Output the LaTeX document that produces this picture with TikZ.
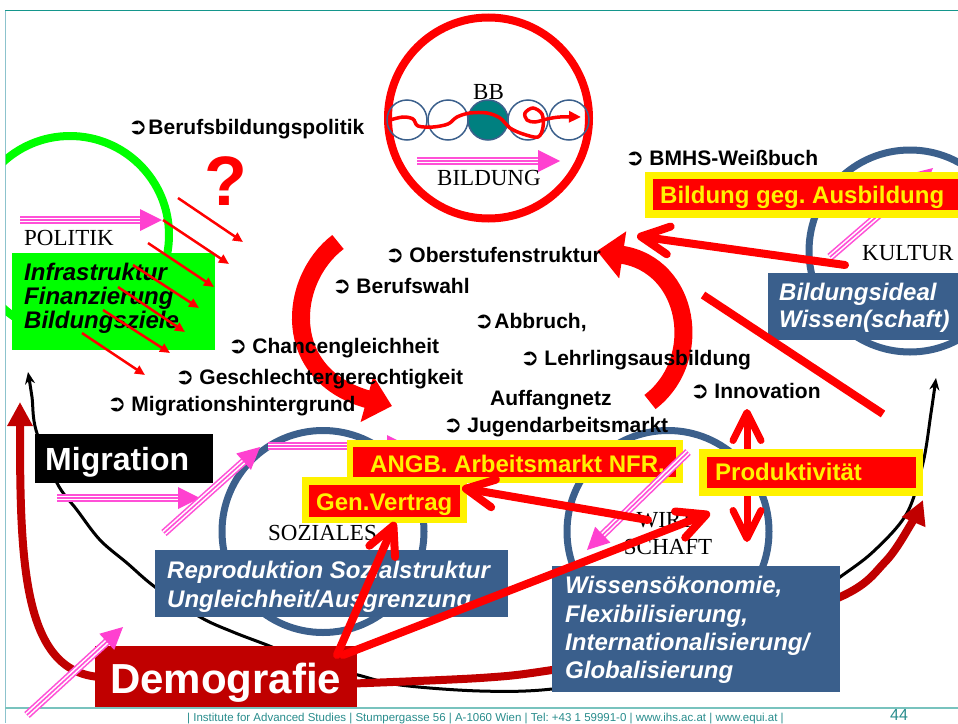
\documentclass[tikz,border=0pt]{standalone}
\usepackage{fontspec}
\setmainfont{Liberation Serif}
\setsansfont{Liberation Sans}
\newfontfamily\dingfont{DejaVu Sans}
\usetikzlibrary{arrows.meta,calc}

\definecolor{ringblue}{RGB}{60,96,140}
\definecolor{boxblue}{RGB}{58,95,140}
\definecolor{deepred}{RGB}{192,0,0}
\definecolor{pinkline}{RGB}{255,80,215}
\definecolor{pinkhead}{RGB}{255,64,208}
\definecolor{bbteal}{RGB}{0,128,128}
\definecolor{frameteal}{RGB}{20,150,140}
\definecolor{frameside}{RGB}{140,195,205}
\definecolor{footline}{RGB}{120,195,190}
\definecolor{foottext}{RGB}{40,140,140}
\definecolor{brightgreen}{RGB}{0,255,0}

% bullet sign in front of the topics
\newcommand{\bul}{{\dingfont\fontsize{23}{23}\selectfont ➲}\hspace{1pt}}
\newcommand{\bulsp}{\bul\hspace{4pt}}
% striped pink arrow: shaft from #1, tip at #2
\newcommand{\pinkarrow}[2]{%
  \coordinate (pshaft) at ($(#2)!16pt!(#1)$);
  \coordinate (pbase) at ($(#2)!22pt!(#1)$);
  \draw[line width=8pt,pinkline] (#1) -- (pshaft);
  \draw[line width=4.8pt,white] (#1) -- (pshaft);
  \draw[line width=1.6pt,pinkline] (#1) -- (pshaft);
  \fill[pinkhead] (#2) -- ($(pbase)!11pt!90:(#2)$) -- ($(pbase)!11pt!-90:(#2)$) -- cycle;}

\begin{document}
\frenchspacing
\begin{tikzpicture}[x=1pt,y=-1pt,
  bullettext/.style={anchor=base west,inner sep=0pt,font=\sffamily\bfseries\fontsize{21}{24}\selectfont},
  ringlabel/.style={anchor=base west,inner sep=0pt,font=\fontsize{23}{27}\selectfont},
  alerttext/.style={anchor=base west,inner sep=0pt,text=yellow,font=\sffamily\bfseries\fontsize{24}{28}\selectfont},
  bluetext/.style={anchor=base west,inner sep=0pt,text=white,font=\sffamily\bfseries\itshape\fontsize{24}{28}\selectfont},
  greentext/.style={anchor=base west,inner sep=0pt,text=black,font=\sffamily\bfseries\itshape\fontsize{24}{28}\selectfont},
  panel/.style={anchor=north west,inner sep=0pt,outer sep=0pt},
  ring/.style={draw=ringblue,line width=7pt},
  barbtip/.tip={Straight Barb[length=28pt,width=28pt,round]},
  redbarb/.style={draw=red,line width=8pt,line cap=round,-barbtip},
  bigarc/.style={draw=red,line width=18pt,-{Triangle[length=26pt,width=46pt]}},
  darkarrow/.style={draw=deepred,line width=8pt,-{Triangle[length=24pt,width=24pt]}},
  thinred/.style={draw=red,line width=2.5pt,-{Triangle[length=10pt,width=9pt]}}]

\useasboundingbox (0,0) rectangle (958,723);

% frame lines
\draw[frameteal,line width=1.5pt] (5,10.5) -- (958,10.5);
\draw[frameside,line width=1pt] (5,10.5) -- (5,723);
\draw[footline,line width=1.5pt] (5,708) -- (958,708);

% rings of the four fields
\begin{scope}
  \clip (5.5,11) rectangle (958,707);
  \draw[brightgreen,line width=8pt] (70,235) circle[radius=99];
\end{scope}
\coordinate (kultur) at (910,251);
\coordinate (soziales) at (323,531.5);
\coordinate (wirtschaft) at (668,531.5);
\draw[ring] (kultur) circle[radius=101];
\draw[ring] (soziales) circle[radius=101];
\draw[ring] (wirtschaft) circle[radius=101];

% BILDUNG circle with its chain
\coordinate (bildung) at (488.5,118);
\draw[red,line width=8pt] (bildung) circle[radius=100.5];
\foreach \cx in {407,448,528,569}
  \draw[ringblue,line width=1.5pt] (\cx,120) circle[radius=20];
\draw[ringblue,line width=1.5pt,fill=bbteal] (488,120) circle[radius=20];
\draw[red,line width=3.5pt,-{Triangle[length=12pt,width=11pt]}]
  plot[smooth,tension=0.55] coordinates {(390,120) (403,117) (413,119) (418,126) (433,127)
  (448,124) (457,117) (470,113) (487,113) (500,118) (510,128) (523,134) (538,137)
  (543,127) (542,114) (533,108) (525,113) (527,120) (535,122) (547,119) (560,117) (581,117)};
\node[ringlabel] (bb) at (473,99) {BB};
\node[ringlabel] (bildunglabel) at (437,185) {BILDUNG};
\coordinate (pa1) at (417,161); \coordinate (pb1) at (560,161);
\pinkarrow{pa1}{pb1}

% long cycle arrows along the bottom
\draw[line width=3pt,{Stealth[length=12pt,width=10pt]}-{Stealth[length=12pt,width=10pt]}]
  plot[smooth,tension=0.55] coordinates {(28,372) (32,397) (36,430) (57,483) (77,510)
  (100,540) (127,563) (155,587) (200,617) (233,632) (267,645) (310,662) (358,675)
  (400,685) (480,691) (552,689) (650,672) (760,632) (840,577) (875,550) (907,513)
  (923,463) (931,413) (936,378)};
\draw[darkarrow] (100,677) .. controls (22,672) and (20,560) .. (20,402);
\draw[darkarrow] plot[smooth,tension=0.55] coordinates {(340,684) (480,678) (552,670)
  (700,645) (840,597) (885,562) (911,524) (923,500)};

% arrows that pass beneath the boxes
\coordinate (pa5) at (268,446); \coordinate (pb5) at (409,446);
\pinkarrow{pa5}{pb5}
\coordinate (pa8) at (830,257); \coordinate (pb8) at (933,168);
\pinkarrow{pa8}{pb8}
\coordinate (innovtop) at (747,409); \coordinate (innovbot) at (747,542);
\draw[draw=red,line width=7pt,line cap=round,barbtip-barbtip] (innovtop) -- (innovbot);

% boxes
\node[panel,fill=brightgreen,minimum width=203pt,minimum height=97pt] (goals) at (12,253) {};
\node[greentext] (g1) at (24,280) {Infrastruktur};
\node[greentext] (g2) at (24,304) {Finanzierung};
\node[greentext] (g3) at (24,328) {Bildungsziele};

\node[panel,fill=black,minimum width=178pt,minimum height=49pt] (migration) at (35,434) {};
\node[anchor=base west,inner sep=0pt,text=white,font=\sffamily\bfseries\fontsize{32}{36}\selectfont] (migtext) at (45,470) {Migration};

\node[panel,fill=deepred,minimum width=262pt,minimum height=61pt] (demografie) at (95,646) {};
\node[anchor=base west,inner sep=0pt,text=white,font=\sffamily\bfseries\fontsize{42}{46}\selectfont] (demtext) at (110,693) {Demografie};

\node[panel,fill=boxblue,minimum width=353pt,minimum height=67pt] (repro) at (155,550) {};
\node[bluetext] (r1) at (167,578) {Reproduktion Sozialstruktur};
\node[bluetext] (r2) at (167,607) {Ungleichheit/Ausgrenzung};

\node[panel,fill=boxblue,minimum width=288pt,minimum height=126pt] (wissen) at (552,566) {};
\node[bluetext] (w1) at (565,593) {Wissensökonomie,};
\node[bluetext] (w2) at (565,622) {Flexibilisierung,};
\node[bluetext] (w3) at (565,650) {Internationalisierung/};
\node[bluetext] (w4) at (565,678) {Globalisierung};

\node[panel,fill=boxblue,minimum width=195pt,minimum height=67pt] (ideal) at (768,273) {};
\node[bluetext] (i1) at (779,300) {Bildungsideal};
\node[bluetext] (i2) at (779,327) {Wissen(schaft)};

\node[panel,fill=yellow,minimum width=336pt,minimum height=43pt] (angbframe) at (347,440) {};
\node[panel,fill=red,minimum width=323pt,minimum height=30pt] (angb) at (353,447) {};
\node[alerttext] (angbtext) at (370,472) {ANGB. Arbeitsmarkt NFR.};

\node[panel,fill=yellow,minimum width=165pt,minimum height=46pt] (genframe) at (302,477) {};
\node[panel,fill=red,minimum width=151pt,minimum height=32pt] (gen) at (309,485) {};
\node[alerttext] (gentext) at (316,510) {Gen.Vertrag};

\node[panel,fill=yellow,minimum width=224pt,minimum height=47pt] (prodframe) at (699,449) {};
\node[panel,fill=red,minimum width=209pt,minimum height=31pt] (prod) at (707,457) {};
\node[alerttext] (prodtext) at (715,480) {Produktivität};

\node[panel,fill=yellow,minimum width=313pt,minimum height=46pt] (gegframe) at (645,172) {};
\node[panel,fill=red,minimum width=305pt,minimum height=31pt] (geg) at (653,179) {};
\node[alerttext] (gegtext) at (660,203) {Bildung geg. Ausbildung};

% field labels
\node[ringlabel] (politik) at (24,245) {POLITIK};
\node[ringlabel] (kulturlabel) at (862,260) {KULTUR};
\node[ringlabel] (sozlabel) at (268,540) {SOZIALES};
\node[ringlabel,anchor=base] (wir1) at (668,527) {WIRT-};
\node[ringlabel,anchor=base] (wir2) at (668,554) {SCHAFT};

% pink arrows drawn on top
\coordinate (pa2) at (20,220); \coordinate (pb2) at (162,220);
\pinkarrow{pa2}{pb2}
\coordinate (pa3) at (57,498); \coordinate (pb3) at (200,498);
\pinkarrow{pa3}{pb3}
\coordinate (pa4) at (164,533); \coordinate (pb4) at (260,447);
\pinkarrow{pa4}{pb4}
\coordinate (pa6) at (27,715); \coordinate (pb6) at (123,627);
\pinkarrow{pa6}{pb6}
\coordinate (pa7) at (688,452); \coordinate (pb7) at (587,550);
\pinkarrow{pa7}{pb7}

% policy arrows
\node[anchor=base west,inner sep=0pt,text=red,font=\sffamily\bfseries\fontsize{70}{72}\selectfont] (question) at (204,205) {?};
\foreach \sx/\sy/\ex/\ey in {178/198/243/242, 163/220/229/264, 148/243/214/287,
  133/265/199/308, 118/287/185/332, 103/310/170/353, 82/333/145/375}
  \draw[thinred] (\sx,\sy) -- (\ex,\ey);

% the central cycle
\draw[bigarc] (338,242) .. controls (288,280) and (280,375) .. (392,406);
\draw[bigarc] (650,402) .. controls (705,360) and (690,265) .. (597,251);

% red links
\coordinate (kulturout) at (845,265); \coordinate (oberin) at (637,236);
\draw[redbarb] (kulturout) -- (oberin);
\coordinate (slashtop) at (703,295); \coordinate (slashbot) at (883,414);
\draw[red,line width=8pt] (slashtop) -- (slashbot);
\coordinate (wirin) at (648,520); \coordinate (genin) at (462,488);
\draw[redbarb] (wirin) -- (genin);
\coordinate (demout1) at (337,655); \coordinate (genbot) at (395,522);
\draw[redbarb] (demout1) -- (genbot);
\coordinate (demout2) at (343,655); \coordinate (wirtip) at (710,513);
\draw[redbarb] (demout2) -- (wirtip);

% topics
\node[bullettext] (t1) at (128,134) {\bul Berufsbildungspolitik};
\node[bullettext] (t2) at (625,165) {\bulsp BMHS-Weißbuch};
\node[bullettext] (t3) at (385,262) {\bulsp Oberstufenstruktur};
\node[bullettext] (t4) at (332,293) {\bulsp Berufswahl};
\node[bullettext] (t5) at (474,328) {\bul Abbruch,};
\node[bullettext] (t6) at (228,353) {\bulsp Chancengleichheit};
\node[bullettext] (t7) at (520,365) {\bulsp Lehrlingsausbildung};
\node[bullettext] (t8) at (175,384) {\bulsp Geschlechtergerechtigkeit};
\node[bullettext] (t9) at (107,411) {\bulsp Migrationshintergrund};
\node[bullettext] (t10) at (490,405) {Auffangnetz};
\node[bullettext] (t11) at (690,398) {\bulsp Innovation};
\node[bullettext] (t12) at (443,432) {\bulsp Jugendarbeitsmarkt};

% footer
\node[anchor=base west,inner sep=0pt,text=foottext,font=\sffamily\fontsize{11.5}{12}\selectfont] (footer) at (187,721)
  {| Institute for Advanced Studies | Stumpergasse 56 | A-1060 Wien | Tel: +43 1 59991-0 | www.ihs.ac.at | www.equi.at |};
\node[anchor=base west,inner sep=0pt,text=foottext,font=\sffamily\fontsize{16}{18}\selectfont] (pageno) at (890,720) {44};
\end{tikzpicture}
\end{document}
